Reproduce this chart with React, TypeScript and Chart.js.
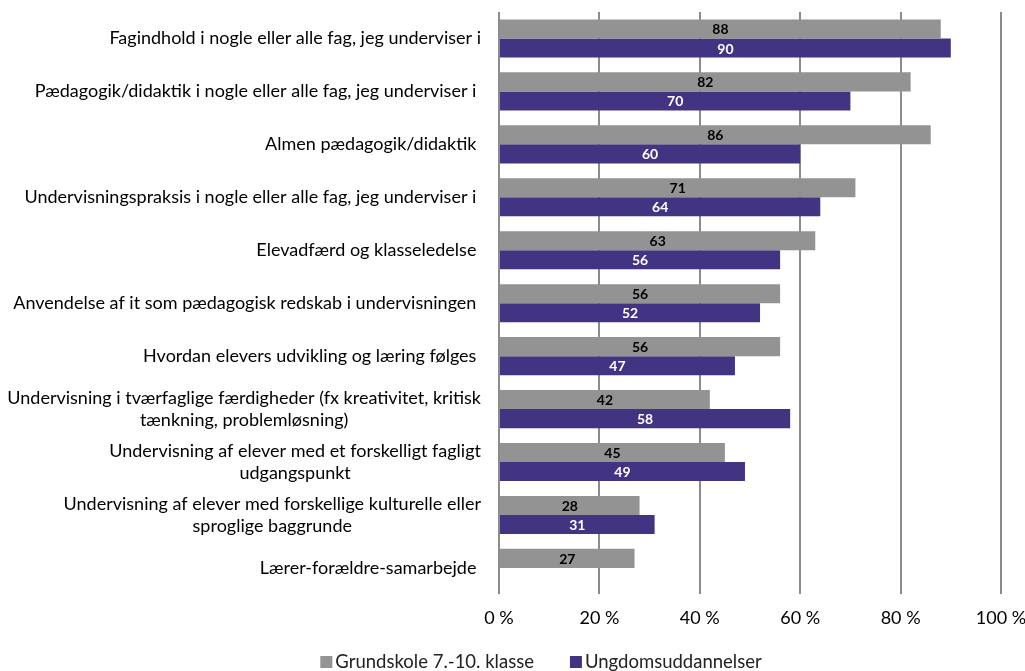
import React, { useEffect, useRef } from "react";
import { Chart, registerables } from "chart.js";

Chart.register(...registerables);

const categories: (string | string[])[] = [
  "Fagindhold i nogle eller alle fag, jeg underviser i",
  "Pædagogik/didaktik i nogle eller alle fag, jeg underviser i ",
  "Almen pædagogik/didaktik ",
  "Undervisningspraksis i nogle eller alle fag, jeg underviser i ",
  "Elevadfærd og klasseledelse ",
  "Anvendelse af it som pædagogisk redskab i undervisningen ",
  "Hvordan elevers udvikling og læring følges ",
  ["Undervisning i tværfaglige færdigheder (fx kreativitet, kritisk", "tænkning, problemløsning)"],
  ["Undervisning af elever med et forskelligt fagligt", "udgangspunkt"],
  ["Undervisning af elever med forskellige kulturelle eller", "sproglige baggrunde"],
  "Lærer-forældre-samarbejde ",
];

const grundskole: (number | null)[] = [88, 82, 86, 71, 63, 56, 56, 42, 45, 28, 27];
const ungdom: (number | null)[] = [90, 70, 60, 64, 56, 52, 47, 58, 49, 31, null];

const seriesNames = ["Grundskole 7.-10. klasse", "Ungdomsuddannelser"];
const xTicks = [0, 20, 40, 60, 80, 100];

const GRAY = "#939393";
const PURPLE = "#433483";
const FONT = "Lato";
const FS = 18;

const yLabelPlugin = {
  id: "yLabels",
  afterDraw(chart: any) {
    const ctx = chart.ctx;
    const ys = chart.scales.y;
    const right = chart.chartArea.left - 18;
    ctx.save();
    ctx.font = `${FS}px ${FONT}`;
    ctx.fillStyle = "#000";
    ctx.textBaseline = "middle";
    ctx.textAlign = "center";
    const lh = 22;
    categories.forEach((c, i) => {
      const lines = Array.isArray(c) ? c : [c];
      const maxW = Math.max(...lines.map((l) => ctx.measureText(l).width));
      const cx = right - maxW / 2;
      const yc = ys.getPixelForValue(i);
      lines.forEach((l, j) => {
        ctx.fillText(l, cx, yc + (j - (lines.length - 1) / 2) * lh);
      });
    });
    ctx.restore();
  },
};

const valueLabelPlugin = {
  id: "valueLabels",
  afterDatasetsDraw(chart: any) {
    const ctx = chart.ctx;
    ctx.save();
    ctx.font = `bold 14px ${FONT}`;
    ctx.textAlign = "center";
    ctx.textBaseline = "middle";
    chart.data.datasets.forEach((ds: any, di: number) => {
      const meta = chart.getDatasetMeta(di);
      ctx.fillStyle = di === 0 ? "#000" : "#fff";
      meta.data.forEach((el: any, i: number) => {
        const v = ds.data[i];
        if (v === null || v === undefined) return;
        const p = el.getProps(["x", "y", "base"], true);
        ctx.fillText(String(v), (p.x + p.base) / 2, p.y + 1);
      });
    });
    ctx.restore();
  },
};

const legendPlugin = {
  id: "customLegend",
  afterDraw(chart: any) {
    const ctx = chart.ctx;
    ctx.save();
    ctx.font = `18.5px ${FONT}`;
    ctx.textBaseline = "middle";
    ctx.textAlign = "left";
    const box = 12;
    const gapBoxText = 3;
    const gapItems = 36;
    const widths = chart.data.datasets.map((d: any) => box + gapBoxText + ctx.measureText(d.label).width);
    const total = widths.reduce((a: number, b: number) => a + b, 0) + gapItems * (widths.length - 1);
    let x = 541 - total / 2;
    const y = 662;
    chart.data.datasets.forEach((d: any, i: number) => {
      ctx.fillStyle = d.backgroundColor;
      ctx.fillRect(x, y - box / 2, box, box);
      ctx.fillStyle = "#222";
      ctx.fillText(d.label, x + box + gapBoxText, y);
      x += widths[i] + gapItems;
    });
    ctx.restore();
  },
};

export default function App() {
  const ref = useRef<HTMLCanvasElement | null>(null);
  useEffect(() => {
    if (!ref.current) return;
    const chart = new Chart(ref.current, {
      type: "bar",
      data: {
        labels: categories.map((c) => (Array.isArray(c) ? c.join(" ") : c)),
        datasets: [
          { label: seriesNames[0], data: grundskole, backgroundColor: GRAY, categoryPercentage: 0.72, barPercentage: 1.0 },
          { label: seriesNames[1], data: ungdom, backgroundColor: PURPLE, categoryPercentage: 0.72, barPercentage: 1.0 },
        ],
      },
      options: {
        indexAxis: "y",
        animation: false,
        responsive: true,
        maintainAspectRatio: false,
        layout: { padding: { left: 491, right: 24, top: 12, bottom: 29 } },
        plugins: {
          legend: { display: false },
          tooltip: { enabled: false },
        },
        scales: {
          x: {
            min: 0,
            max: 100,
            afterBuildTicks: (s: any) => {
              s.ticks = xTicks.map((v) => ({ value: v }));
            },
            afterFit: (s: any) => {
              s.paddingLeft = 0;
              s.paddingRight = 0;
            },
            ticks: {
              callback: (v: any) => `${v} %`,
              font: { family: FONT, size: FS },
              color: "#000",
              padding: 13,
              maxRotation: 0,
            },
            grid: { color: "#8c8c8c", lineWidth: 2, drawTicks: false },
            border: { display: false },
          },
          y: {
            ticks: { display: false },
            grid: { display: false },
            border: { display: false },
          },
        },
      },
      plugins: [yLabelPlugin, valueLabelPlugin, legendPlugin],
    });
    return () => chart.destroy();
  }, []);
  return (
    <div style={{ position: "fixed", left: 0, top: 0, width: 1025, height: 671 }}>
      <canvas ref={ref} />
    </div>
  );
}
